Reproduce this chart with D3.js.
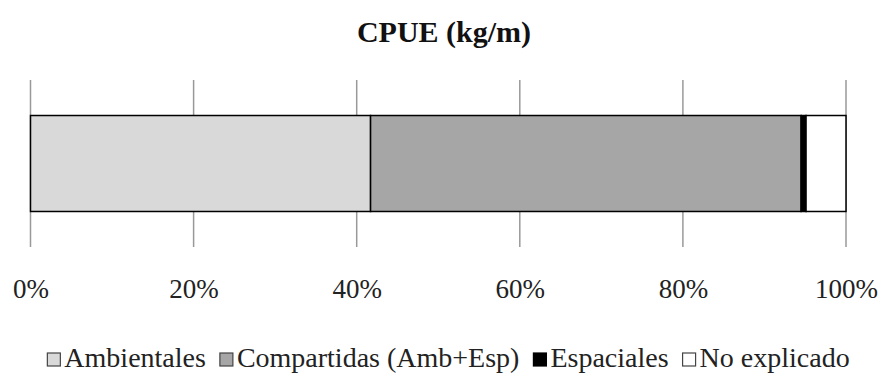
<!DOCTYPE html>
<html><head><meta charset="utf-8">
<script src="https://cdn.jsdelivr.net/npm/d3@7"></script>
<style>body{margin:0;background:#fff} svg text{font-family:"Liberation Serif","DejaVu Serif",serif !important;}</style>
</head><body>
<svg id="c" width="882" height="374"></svg>
<script>
const seriesNames = ["Ambientales", "Compartidas (Amb+Esp)", "Espaciales", "No explicado"];
const seriesValues = [41.7, 52.8, 0.6, 4.9];
const seriesColors = ["#d9d9d9", "#a6a6a6", "#000000", "#ffffff"];
const tickValues = [0, 20, 40, 60, 80, 100];
const title = "CPUE (kg/m)";

const svg = d3.select("#c");
const x = d3.scaleLinear().domain([0, 100]).range([30.5, 846]);
const y = d3.scaleBand().domain(["CPUE"]).range([80, 247]).paddingInner(0).paddingOuter(0.37);

// grid lines
svg.append("g").selectAll("line").data(tickValues).join("line")
  .attr("x1", d => x(d)).attr("x2", d => x(d)).attr("y1", 80).attr("y2", 247)
  .attr("stroke", "#999").attr("stroke-width", 1.5);

// stacked segments
let acc = 0;
const segs = seriesValues.map((v, i) => { const s = {x0: acc, x1: acc + v, c: seriesColors[i]}; acc += v; return s; });
svg.append("g").selectAll("rect").data(segs).join("rect")
  .attr("x", d => x(d.x0)).attr("width", d => x(d.x1) - x(d.x0))
  .attr("y", y("CPUE")).attr("height", y.bandwidth())
  .attr("fill", d => d.c).attr("stroke", "#000").attr("stroke-width", 1.5);

// axis labels
const ax = d3.axisBottom(x).tickValues(tickValues).tickFormat(d => d + "%").tickSize(0).tickPadding(0);
const g = svg.append("g").attr("transform", "translate(0,298)").call(ax);
g.select(".domain").remove();
g.selectAll("text").attr("font-size", 27).attr("fill", "#222").attr("dy", 0).attr("y", 0);

// title
svg.append("text").attr("x", 444).attr("y", 42).attr("text-anchor", "middle")
  .attr("font-size", 30).attr("font-weight", "bold").attr("fill", "#111").text(title);

// legend
const leg = svg.append("g").attr("font-size", 28).attr("fill", "#222");
const items = leg.selectAll("g").data(seriesNames).join("g");
items.append("rect").attr("width", 13).attr("height", 13).attr("y", 353)
  .attr("fill", (d, i) => seriesColors[i]).attr("stroke", (d, i) => i === 2 ? "#000" : "#444").attr("stroke-width", 1.2);
items.append("text").attr("x", 17).attr("y", 367).text(d => d);
const widths = [];
items.each(function() { widths.push(this.getBBox().width); });
const gap = 14;
const total = d3.sum(widths) + gap * (widths.length - 1);
let lx = 448.5 - total / 2;
items.attr("transform", (d, i) => { const t = `translate(${lx},0)`; lx += widths[i] + gap; return t; });
</script>
</body></html>
